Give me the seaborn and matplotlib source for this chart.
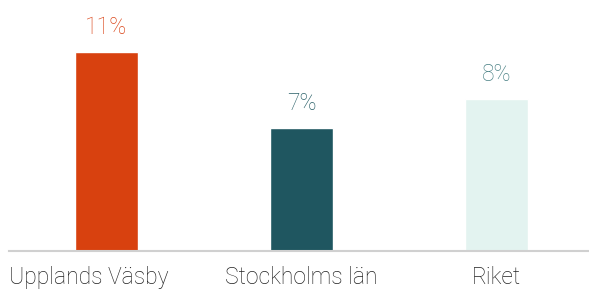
import matplotlib
matplotlib.use("Agg")
import matplotlib.pyplot as plt
import seaborn as sns
import pandas as pd

categories = ["Upplands Väsby", "Stockholms län", "Riket"]
values = [11.0, 6.8, 8.4]
labels = ["11%", "7%", "8%"]
bar_colors = ["#D8410F", "#1F5660", "#E3F3F0"]
text_colors = ["#DA4518", "#2A6068", "#4A8185"]

sns.set_theme(style="white")
plt.rcParams["font.family"] = ["Roboto", "DejaVu Sans"]

df = pd.DataFrame({"omrade": categories, "andel": values})

fig = plt.figure(figsize=(5.89, 2.94), dpi=100)
ax = fig.add_axes([9 / 589, 43 / 294, 585 / 589, 251 / 294])

sns.barplot(data=df, x="omrade", y="andel", hue="omrade", palette=bar_colors,
            legend=False, width=0.325, saturation=1, ax=ax)

for i, (v, lab) in enumerate(zip(values, labels)):
    ax.text(i, v + 0.72, lab, ha="center", va="bottom", fontsize=16.5,
            color=text_colors[i], fontweight="light")

ax.set_xlim(-0.5, 2.5)
ax.set_ylim(0, 13.87)
ax.set_xlabel("")
ax.set_ylabel("")
ax.set_yticks([])
ax.set_xticks(range(len(categories)))
ax.set_xticklabels([""] + categories[1:])
ax.tick_params(axis="x", length=0, pad=11, labelsize=16.5, labelcolor="#222222")
for lab in ax.get_xticklabels():
    lab.set_fontweight("light")
# first label kept inside the figure, left aligned like the original
ax.text(-0.5, -0.83, categories[0], ha="left", va="top", fontsize=16.5,
        color="#222222", fontweight="light", transform=ax.transData)
for s in ["top", "right", "left"]:
    ax.spines[s].set_visible(False)
ax.spines["bottom"].set_color("#D0D0D0")
ax.spines["bottom"].set_linewidth(1.5)

fig.savefig("out.png", dpi=100)
